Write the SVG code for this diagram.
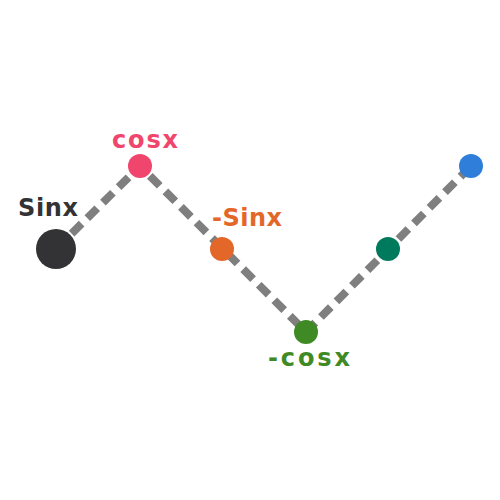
<svg xmlns="http://www.w3.org/2000/svg" width="500" height="500" viewBox="0 0 500 500">
<style>
.edge{fill:none;stroke:#7f7f7f;stroke-width:8;stroke-dasharray:14 8}
.lbl{font-family:"DejaVu Sans",sans-serif;font-weight:bold;font-size:24px}
</style>
<rect width="500" height="500" fill="#ffffff"/>
<g id="connectors">
<path class="edge" d="M56,249 L140,166 L306,332 L471,166"/>
</g>
<g id="n-sinx"><circle cx="56" cy="249" r="20" fill="#333335"/><text class="lbl" x="18" y="216" fill="#333335" textLength="60" lengthAdjust="spacing">Sinx</text></g>
<g id="n-cosx"><circle cx="140" cy="166" r="12" fill="#f0466e"/><text class="lbl" x="112" y="148" fill="#f0466e" textLength="66" lengthAdjust="spacing">cosx</text></g>
<g id="n-msinx"><circle cx="222" cy="249" r="12" fill="#e4672a"/><text class="lbl" x="212" y="226" fill="#e4672a" textLength="70" lengthAdjust="spacing">-Sinx</text></g>
<g id="n-mcosx"><circle cx="306" cy="332" r="12" fill="#3f8a24"/><text class="lbl" x="268" y="366" fill="#3f8a24" textLength="82" lengthAdjust="spacing">-cosx</text></g>
<g id="n-teal"><circle cx="388" cy="249" r="12" fill="#007a5c"/></g>
<g id="n-blue"><circle cx="471" cy="166" r="12" fill="#2f7fda"/></g>
</svg>
